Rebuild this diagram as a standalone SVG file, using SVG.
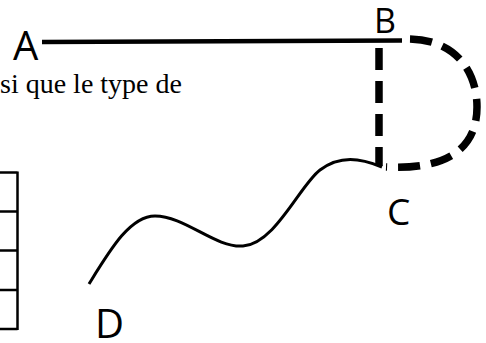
<svg xmlns="http://www.w3.org/2000/svg" width="486" height="343" viewBox="0 0 486 343">
<style>
.lbl{font-family:"Open Sans","Liberation Sans",sans-serif;fill:#000}
.body{font-family:"Liberation Serif","Times New Roman",serif;fill:#000}
.solid{fill:none;stroke:#000;stroke-linecap:butt}
.dash{fill:none;stroke:#000;stroke-width:7.5;stroke-dasharray:22 11}
.grid{fill:none;stroke:#000;stroke-width:2.5}
</style>
<rect width="486" height="343" fill="#fff"/>
<text class="body" x="0" y="93" font-size="28">si que le type de</text>
<g id="table">
<path class="grid" d="M0 172.5H17.5M0 211.5H17.5M0 250.5H17.5M0 290H17.5M0 329H17.5M17.5 171.5V330"/>
</g>
<g id="connectors">
<path class="solid" stroke-width="4.5" d="M42 42 L402 40.5"/>
<path class="dash" d="M379 48 V166"/>
<path class="dash" d="M410 39 C458 40 477 74 477 107 C477 145 452 170 386 167"/>
<path class="solid" stroke-width="3" d="M89 284 C110 250 130 216 155 216 C185 216 215 248 243 246 C275 244 300 185 320 170 C340 155 360 158 382 167"/>
</g>
<g id="node-A"><text class="lbl" x="13" y="60" font-size="40">A</text></g>
<g id="node-B"><text class="lbl" x="374" y="33" font-size="34">B</text></g>
<g id="node-C"><text class="lbl" x="387" y="225" font-size="37">C</text></g>
<g id="node-D"><text class="lbl" x="95" y="338" font-size="40">D</text></g>
</svg>
